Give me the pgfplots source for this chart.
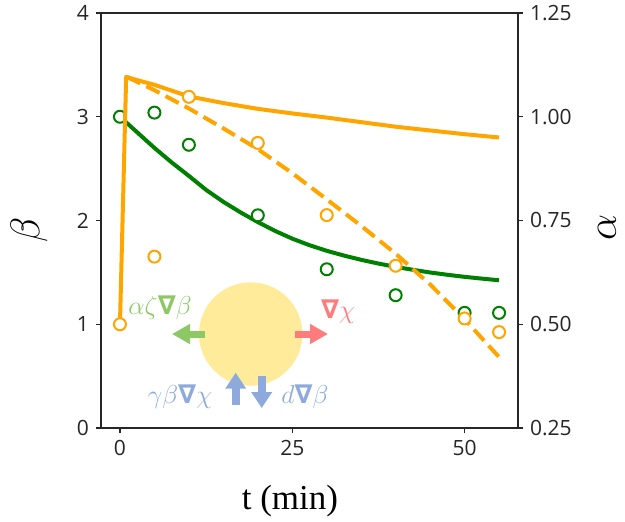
\documentclass[border=0pt]{standalone}
\usepackage{pgfplots}
\pgfplotsset{compat=1.18}
\usepackage{pgfplotstable}
\usepackage{fontspec}
\setmainfont{Liberation Serif}
\newfontfamily\tickfont{Open Sans}
\newfontfamily\nablafont{DejaVu Sans}
\newcommand\bnabla{\mbox{\nablafont\bfseries ∇}}
\usetikzlibrary{arrows.meta}
\definecolor{mplorange}{HTML}{FFA500}
\definecolor{mplgreen}{HTML}{008000}
\definecolor{axiscol}{HTML}{262626}
\definecolor{cellyellow}{RGB}{255,235,153}
\definecolor{lgreen}{RGB}{142,200,102}
\definecolor{lred}{RGB}{255,124,124}
\definecolor{lblue}{RGB}{142,170,220}

\pgfplotstableread{
t b
0 3.000
2.5 2.850
5 2.700
7.5 2.560
10 2.430
12.5 2.295
15 2.180
17.5 2.078
20 1.985
22.5 1.900
25 1.825
27.5 1.762
30 1.708
32.5 1.662
35 1.621
37.5 1.585
40 1.553
42.5 1.525
45 1.499
47.5 1.477
50 1.457
52.5 1.440
55 1.424
}\greencurve

\pgfplotstableread{
t a
0 0.500
0.9 1.096
3 1.086
5 1.077
7.5 1.063
10 1.049
12.5 1.041
15 1.033
17.5 1.026
20 1.019
25 1.008
30 0.998
35 0.987
40 0.976
45 0.967
50 0.958
55 0.950
}\orangesolid

\pgfplotstableread{
t a
1 1.096
5 1.064
10 1.020
15 0.972
20 0.922
25 0.864
30 0.801
35 0.737
40 0.670
45 0.596
50 0.512
55 0.421
}\orangedashed

\begin{document}
\begin{tikzpicture}
\useasboundingbox (-50.5pt,-46.5pt) rectangle (262pt,214pt);
\pgfplotsset{common/.style={
  width=208.5pt, height=207.5pt, scale only axis,
  at={(0,0)}, anchor=south west,
  xmin=-2.75, xmax=57.75,
  axis line style={color=axiscol, line width=0.6pt},
  tick style={color=axiscol, line width=0.6pt},
  major tick length=2.5pt, tick align=outside,
  tick label style={font=\tickfont\fontsize{10.5}{12}\selectfont, text=axiscol},
  /pgf/number format/assume math mode=true,
}}
\begin{axis}[common,
  ymin=0, ymax=4, ytick={0,1,2,3,4}, xtick={0,25,50},
  xtick pos=left, ytick pos=left,
  xlabel={t (min)},
  xlabel style={at={(axis description cs:0.453,-0.1754)}, anchor=center, font=\fontsize{17.5}{20}\selectfont},
  ylabel={$\beta$},
  ylabel style={at={(axis description cs:-0.1727,0.477)}, anchor=center, font=\LARGE, scale=1.2},
]
\addplot[mplgreen, line width=2pt, no marks] table[x=t,y=b]{\greencurve};
\addplot[only marks, mark=*, mark size=3pt, mark options={draw=mplgreen, fill=white, line width=1pt}]
  coordinates {(0,3.00) (5,3.04) (10,2.73) (20,2.05) (30,1.53) (40,1.28) (50,1.11) (55,1.11)};
\end{axis}
\begin{axis}[common,
  ymin=0.25, ymax=1.25, ytick={0.25,0.5,0.75,1,1.25},
  hide x axis, ytick pos=right, yticklabel pos=right,
  yticklabel style={/pgf/number format/.cd, fixed, fixed zerofill, precision=2},
  ylabel={$\alpha$},
  ylabel style={at={(axis description cs:1.2135,0.484)}, anchor=center, font=\LARGE, scale=1.2},
]
\addplot[mplorange, line width=2pt, no marks, line join=round] table[x=t,y=a]{\orangesolid};
\addplot[mplorange, line width=2pt, no marks, dash pattern=on 7.4pt off 3.4pt] table[x=t,y=a]{\orangedashed};
\addplot[only marks, mark=*, mark size=3pt, mark options={draw=mplorange, fill=white, line width=1pt}]
  coordinates {(0,0.500) (5,0.663) (10,1.048) (20,0.937) (30,0.763) (40,0.641) (50,0.514) (55,0.481)};
\end{axis}
% schematic
\fill[cellyellow] (74.85pt,47pt) circle (25.85pt);
\draw[lgreen, line width=3.5pt, -{Triangle[length=9pt,width=9.5pt]}] (52pt,47pt) -- (35.5pt,47pt);
\draw[lred, line width=3.5pt, -{Triangle[length=9pt,width=9.5pt]}] (97pt,47pt) -- (113.5pt,47pt);
\draw[lblue, line width=3.8pt, -{Triangle[length=8pt,width=10pt]}] (67.35pt,11.5pt) -- (67.35pt,27.65pt);
\draw[lblue, line width=3.8pt, -{Triangle[length=8pt,width=10pt]}] (80.35pt,26pt) -- (80.35pt,10pt);
\node[lgreen, font=\large, scale=1.08] at (29.5pt,60pt) {$\alpha\zeta\bnabla\beta$};
\node[lred, font=\large, scale=1.08] at (118.5pt,58pt) {$\bnabla\chi$};
\node[lblue, font=\large, scale=1.08] at (39.5pt,15.5pt) {$\gamma\beta\bnabla\chi$};
\node[lblue, font=\large, scale=1.08] at (102pt,15.5pt) {$d\bnabla\beta$};
\end{tikzpicture}
\end{document}
